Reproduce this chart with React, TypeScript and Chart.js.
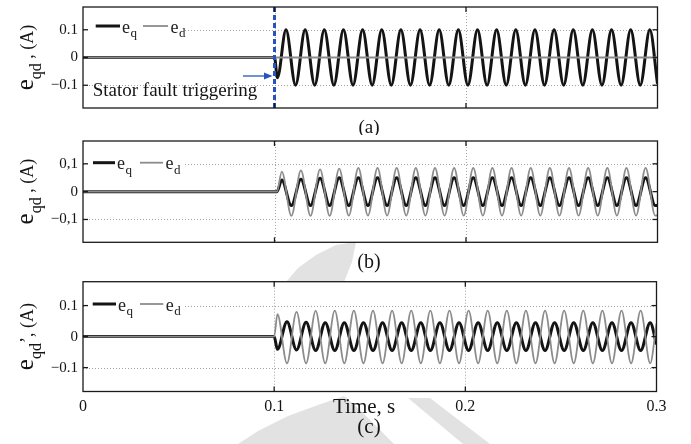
import React, { useEffect, useRef } from "react";
import { Chart, registerables } from "chart.js";
Chart.register(...registerables);

const SERIF = "'Liberation Serif', 'Times New Roman', Times, serif";
const BLACK = "#141414";
const GRAY = "#8c8c8c";
const BLUE = "#2a52be";
const WATERMARK = "#e2e2e2";

// ---- axes ----
const xTicks = [0, 0.1, 0.2, 0.3];
const xTickLabels = ["0", "0.1", "0.2", "0.3"];
const yTicks = [-0.1, 0, 0.1];
const yTickLabelsDot = ["\u22120.1", "0", "0.1"];
const yTickLabelsComma = ["\u22120,1", "0", "0,1"];
const gridX = [0.1, 0.2];
const gridY = [-0.1, 0.1];
const faultTime = 0.1;

// ---- panel (a) ----
const timeA = [
  0, 0.1, 0.1015,
  0.106, 0.111, 0.116, 0.121, 0.126, 0.131, 0.136, 0.141, 0.146, 0.151,
  0.156, 0.161, 0.166, 0.171, 0.176, 0.181, 0.186, 0.191, 0.196, 0.201,
  0.206, 0.211, 0.216, 0.221, 0.226, 0.231, 0.236, 0.241, 0.246, 0.251,
  0.256, 0.261, 0.266, 0.271, 0.276, 0.281, 0.286, 0.291, 0.296,
  0.3,
];
const eqA = [
  0, 0, -0.073,
  0.1, -0.1, 0.1, -0.1, 0.1, -0.1, 0.1, -0.1, 0.1, -0.1,
  0.1, -0.1, 0.1, -0.1, 0.1, -0.1, 0.1, -0.1, 0.1, -0.1,
  0.1, -0.1, 0.1, -0.1, 0.1, -0.1, 0.1, -0.1, 0.1, -0.1,
  0.1, -0.1, 0.1, -0.1, 0.1, -0.1, 0.1, -0.1, 0.1,
  -0.095,
];
const timeFlatA = [0, 0.3];
const edA = [0, 0];

// ---- panel (b) ----
const timeB = [
  0, 0.1013,
  0.1038, 0.1088, 0.1138, 0.1188, 0.1238, 0.1288, 0.1338, 0.1388, 0.1438, 0.1488,
  0.1538, 0.1588, 0.1638, 0.1688, 0.1738, 0.1788, 0.1838, 0.1888, 0.1938, 0.1988,
  0.2038, 0.2088, 0.2138, 0.2188, 0.2238, 0.2288, 0.2338, 0.2388, 0.2438, 0.2488,
  0.2538, 0.2588, 0.2638, 0.2688, 0.2738, 0.2788, 0.2838, 0.2888, 0.2938, 0.2988,
  0.3,
];
const eqB = [
  0, 0,
  0.042, -0.05, 0.045, -0.05, 0.048, -0.05, 0.05, -0.05, 0.05, -0.05,
  0.05, -0.05, 0.05, -0.05, 0.05, -0.05, 0.05, -0.05, 0.05, -0.05,
  0.05, -0.05, 0.05, -0.05, 0.05, -0.05, 0.05, -0.05, 0.05, -0.05,
  0.05, -0.05, 0.05, -0.05, 0.05, -0.05, 0.05, -0.05, 0.05, -0.05,
  -0.049,
];
const edB = [
  0, 0,
  0.072, -0.087, 0.076, -0.087, 0.08, -0.087, 0.083, -0.086, 0.085, -0.086,
  0.085, -0.086, 0.085, -0.086, 0.085, -0.086, 0.085, -0.086, 0.085, -0.086,
  0.085, -0.086, 0.085, -0.086, 0.085, -0.086, 0.085, -0.086, 0.085, -0.086,
  0.085, -0.086, 0.085, -0.086, 0.085, -0.086, 0.085, -0.086, 0.085, -0.086,
  -0.085,
];

// ---- panel (c) ----
const timeC = [
  0, 0.1,
  0.1017, 0.1067, 0.1117, 0.1167, 0.1217, 0.1267, 0.1317, 0.1367, 0.1417, 0.1467,
  0.1517, 0.1567, 0.1617, 0.1667, 0.1717, 0.1767, 0.1817, 0.1867, 0.1917, 0.1967,
  0.2017, 0.2067, 0.2117, 0.2167, 0.2217, 0.2267, 0.2317, 0.2367, 0.2417, 0.2467,
  0.2517, 0.2567, 0.2617, 0.2667, 0.2717, 0.2767, 0.2817, 0.2867, 0.2917, 0.2967,
  0.3,
];
const eqC = [
  0, 0,
  -0.041, 0.048, -0.043, 0.046, -0.045, 0.045, -0.045, 0.045, -0.045, 0.045,
  -0.045, 0.045, -0.045, 0.045, -0.045, 0.045, -0.045, 0.045, -0.045, 0.045,
  -0.045, 0.045, -0.045, 0.045, -0.045, 0.045, -0.045, 0.045, -0.045, 0.045,
  -0.045, 0.045, -0.045, 0.045, -0.045, 0.045, -0.045, 0.045, -0.045, 0.045,
  -0.025,
];
const edC = [
  0, 0,
  0.072, -0.086, 0.08, -0.086, 0.083, -0.086, 0.084, -0.086, 0.084, -0.086,
  0.084, -0.086, 0.084, -0.086, 0.084, -0.086, 0.084, -0.086, 0.084, -0.086,
  0.084, -0.086, 0.084, -0.086, 0.084, -0.086, 0.084, -0.086, 0.084, -0.086,
  0.084, -0.086, 0.084, -0.086, 0.084, -0.086, 0.084, -0.086, 0.084, -0.086,
  0.042,
];

// faint background watermark shapes (page coordinates)
const watermarkShapes: number[][][] = [
  [[286, 282], [298, 268], [316, 255], [336, 245], [356, 242], [352, 262], [344, 282]],
  [[238, 444], [258, 431], [288, 416], [318, 405], [344, 396], [360, 410], [378, 428], [394, 444]],
  [[408, 398], [430, 398], [490, 444], [463, 444]],
];

const pts = (t: number[], v: number[]) => t.map((x, i) => ({ x, y: v[i] }));

type Spec = {
  top: number;
  height: number;
  padRight: number;
  padTop: number;
  padBottom: number;
  xHeight: number;
  yMax: number;
  yLabels: string[];
  showX: boolean;
  eq: { x: number; y: number }[];
  ed: { x: number; y: number }[];
  prime: boolean;
  caption: string;
  captionY: number;
  captionSize: number;
  legend: { y: number; b0: number; b1: number; g0: number; g1: number };
  extra?: (ctx: CanvasRenderingContext2D, chart: any) => void;
};

function line(ctx: CanvasRenderingContext2D, x0: number, y0: number, x1: number, y1: number) {
  ctx.beginPath();
  ctx.moveTo(x0, y0);
  ctx.lineTo(x1, y1);
  ctx.stroke();
}

function drawYLabel(ctx: CanvasRenderingContext2D, baseX: number, cy: number, prime: boolean) {
  const parts = [
    { t: "e", size: 25, dv: 0 },
    { t: "qd", size: 16, dv: 8 },
    { t: prime ? "\u2019, (A)" : " , (A)", size: 18, dv: 0 },
  ];
  let total = 0;
  const widths: number[] = [];
  for (const p of parts) {
    ctx.font = `${p.size}px ${SERIF}`;
    const w = ctx.measureText(p.t).width;
    widths.push(w);
    total += w;
  }
  ctx.save();
  ctx.translate(baseX, cy + total / 2);
  ctx.rotate(-Math.PI / 2);
  ctx.fillStyle = BLACK;
  ctx.textBaseline = "alphabetic";
  ctx.textAlign = "left";
  let u = 0;
  parts.forEach((p, i) => {
    ctx.font = `${p.size}px ${SERIF}`;
    ctx.fillText(p.t, u, p.dv);
    u += widths[i];
  });
  ctx.restore();
}

function drawLegend(ctx: CanvasRenderingContext2D, left: number, top: number, lg: Spec["legend"]) {
  ctx.save();
  ctx.fillStyle = "#ffffff";
  ctx.fillRect(left + 1, top + 1, 101, lg.y + 13 - top);
  ctx.setLineDash([]);
  ctx.lineCap = "butt";
  ctx.strokeStyle = BLACK;
  ctx.lineWidth = 3;
  line(ctx, lg.b0, lg.y, lg.b1, lg.y);
  ctx.strokeStyle = GRAY;
  ctx.lineWidth = 1.8;
  line(ctx, lg.g0, lg.y, lg.g1, lg.y);
  ctx.fillStyle = "#222";
  ctx.textBaseline = "alphabetic";
  ctx.textAlign = "left";
  const label = (x: number, sub: string) => {
    ctx.font = `18px ${SERIF}`;
    ctx.fillText("e", x, lg.y + 6.5);
    const w = ctx.measureText("e").width;
    ctx.font = `13px ${SERIF}`;
    ctx.fillText(sub, x + w + 0.5, lg.y + 11);
  };
  label(lg.b1 + 2, "q");
  label(lg.g1 + 2.5, "d");
  ctx.restore();
}

function makePlugin(spec: Spec) {
  return {
    id: "panelDeco",
    beforeDraw(chart: any) {
      const { ctx, chartArea: a } = chart;
      ctx.save();
      ctx.translate(0, -spec.top);
      ctx.fillStyle = WATERMARK;
      for (const shape of watermarkShapes) {
        ctx.beginPath();
        shape.forEach(([px, py], i) => (i === 0 ? ctx.moveTo(px, py) : ctx.lineTo(px, py)));
        ctx.closePath();
        ctx.fill();
      }
      ctx.restore();
      ctx.save();
      ctx.fillStyle = "#ffffff";
      ctx.fillRect(a.left, a.top, a.right - a.left, a.bottom - a.top);
      ctx.restore();
    },
    beforeDatasetsDraw(chart: any) {
      const { ctx, chartArea: a, scales } = chart;
      const x = scales.x;
      const y = scales.y;
      ctx.save();
      ctx.strokeStyle = "#a4a4a4";
      ctx.lineWidth = 1;
      ctx.setLineDash([1, 2]);
      for (const v of gridX) {
        const px = Math.round(x.getPixelForValue(v)) + 0.5;
        line(ctx, px, a.top, px, a.bottom);
      }
      for (const v of gridY) {
        const py = Math.round(y.getPixelForValue(v)) + 0.5;
        line(ctx, a.left, py, a.right, py);
      }
      ctx.restore();
    },
    afterDatasetsDraw(chart: any) {
      const { ctx, chartArea: a, scales } = chart;
      const x = scales.x;
      const y = scales.y;
      ctx.save();
      if (spec.extra) spec.extra(ctx, chart);
      drawLegend(ctx, a.left, a.top, spec.legend);
      ctx.strokeStyle = "#1a1a1a";
      ctx.lineWidth = 1.3;
      ctx.setLineDash([]);
      ctx.strokeRect(a.left, a.top, a.right - a.left, a.bottom - a.top);
      const tl = 5;
      for (const v of gridX) {
        const px = x.getPixelForValue(v);
        line(ctx, px, a.bottom, px, a.bottom - tl);
        line(ctx, px, a.top, px, a.top + tl);
      }
      for (const v of yTicks) {
        const py = y.getPixelForValue(v);
        line(ctx, a.left, py, a.left + tl, py);
        line(ctx, a.right, py, a.right - tl, py);
      }
      drawYLabel(ctx, 33, (a.top + a.bottom) / 2, spec.prime);
      ctx.fillStyle = BLACK;
      ctx.font = `${spec.captionSize}px ${SERIF}`;
      ctx.textAlign = "center";
      ctx.textBaseline = "middle";
      ctx.fillText(spec.caption, 369, spec.captionY);
      ctx.restore();
    },
  };
}

function Panel({ spec }: { spec: Spec }) {
  const ref = useRef<HTMLCanvasElement>(null);
  useEffect(() => {
    const chart = new Chart(ref.current as HTMLCanvasElement, {
      type: "line",
      data: {
        datasets: [
          {
            label: "e_d",
            data: spec.ed,
            borderColor: GRAY,
            borderWidth: 1.8,
            pointRadius: 0,
            cubicInterpolationMode: "monotone",
            fill: false,
            order: 0,
          },
          {
            label: "e_q",
            data: spec.eq,
            borderColor: BLACK,
            borderWidth: 3,
            pointRadius: 0,
            cubicInterpolationMode: "monotone",
            fill: false,
            order: 1,
          },
        ],
      },
      options: {
        animation: false,
        responsive: false,
        devicePixelRatio: 1,
        events: [],
        layout: {
          padding: { left: 0, right: spec.padRight, top: spec.padTop, bottom: spec.padBottom },
        },
        plugins: { legend: { display: false }, tooltip: { enabled: false } },
        scales: {
          x: {
            type: "linear",
            min: 0,
            max: 0.3,
            grid: { display: false, drawTicks: false },
            border: { display: false },
            afterBuildTicks: (s: any) => {
              s.ticks = xTicks.map((v) => ({ value: v }));
            },
            afterFit: (s: any) => {
              s.height = spec.xHeight;
              s.paddingLeft = 0;
              s.paddingRight = 0;
            },
            ticks: {
              display: spec.showX,
              autoSkip: false,
              maxRotation: 0,
              padding: 6,
              color: BLACK,
              font: { family: SERIF, size: 16 },
              callback: (_v: any, i: number) => xTickLabels[i],
            },
          },
          y: {
            type: "linear",
            min: -spec.yMax,
            max: spec.yMax,
            grid: { display: false, drawTicks: false },
            border: { display: false },
            afterBuildTicks: (s: any) => {
              s.ticks = yTicks.map((v) => ({ value: v }));
            },
            afterFit: (s: any) => {
              s.width = 83;
              s.paddingTop = 0;
              s.paddingBottom = 0;
            },
            ticks: {
              autoSkip: false,
              padding: 5,
              color: BLACK,
              font: { family: SERIF, size: 15 },
              callback: (_v: any, i: number) => spec.yLabels[i],
            },
          },
        },
      },
      plugins: [makePlugin(spec)],
    } as any);
    return () => chart.destroy();
  }, []);
  return (
    <canvas
      ref={ref}
      width={691}
      height={spec.height}
      style={{ position: "absolute", left: 0, top: spec.top, width: 691, height: spec.height }}
    />
  );
}

const specA: Spec = {
  top: 0,
  height: 135,
  padRight: 33.5,
  padTop: 7,
  padBottom: 27,
  xHeight: 0,
  yMax: 0.182,
  yLabels: yTickLabelsDot,
  showX: false,
  eq: pts(timeA, eqA),
  ed: pts(timeFlatA, edA),
  prime: false,
  caption: "(a)",
  captionY: 128,
  captionSize: 19,
  legend: { y: 26, b0: 95.7, b1: 120, g0: 143, g1: 168 },
  extra: (ctx, chart) => {
    const a = chart.chartArea;
    const px = chart.scales.x.getPixelForValue(faultTime);
    ctx.save();
    ctx.strokeStyle = BLUE;
    ctx.lineWidth = 3;
    ctx.setLineDash([5, 3]);
    line(ctx, px, a.top, px, a.bottom);
    ctx.setLineDash([]);
    ctx.lineWidth = 1.3;
    line(ctx, 243, 76, 266, 76);
    ctx.fillStyle = BLUE;
    ctx.beginPath();
    ctx.moveTo(272.5, 76);
    ctx.lineTo(264, 72.5);
    ctx.lineTo(264, 79.5);
    ctx.closePath();
    ctx.fill();
    ctx.fillStyle = BLACK;
    ctx.font = `19px ${SERIF}`;
    ctx.textAlign = "left";
    ctx.textBaseline = "alphabetic";
    ctx.fillText("Stator fault triggering", 92.7, 96);
    ctx.restore();
  },
};

const specB: Spec = {
  top: 135,
  height: 140,
  padRight: 33.5,
  padTop: 6,
  padBottom: 32.7,
  xHeight: 0,
  yMax: 0.182,
  yLabels: yTickLabelsComma,
  showX: false,
  eq: pts(timeB, eqB),
  ed: pts(timeB, edB),
  prime: false,
  caption: "(b)",
  captionY: 128,
  captionSize: 20,
  legend: { y: 27.7, b0: 93, b1: 115, g0: 140, g1: 163 },
};

const specC: Spec = {
  top: 275,
  height: 169,
  padRight: 34.5,
  padTop: 6.7,
  padBottom: 0,
  xHeight: 52.5,
  yMax: 0.177,
  yLabels: yTickLabelsDot,
  showX: true,
  eq: pts(timeC, eqC),
  ed: pts(timeC, edC),
  prime: true,
  caption: "(c)",
  captionY: 152,
  captionSize: 21,
  legend: { y: 29, b0: 92.7, b1: 116, g0: 140, g1: 163.3 },
  extra: (ctx) => {
    ctx.save();
    ctx.fillStyle = BLACK;
    ctx.font = `21px ${SERIF}`;
    ctx.textAlign = "left";
    ctx.textBaseline = "middle";
    ctx.fillText("Time, s", 333, 132);
    ctx.restore();
  },
};

export default function App() {
  return (
    <div style={{ position: "absolute", left: 0, top: 0, width: 691, height: 444, background: "#fff" }}>
      <Panel spec={specA} />
      <Panel spec={specB} />
      <Panel spec={specC} />
    </div>
  );
}
